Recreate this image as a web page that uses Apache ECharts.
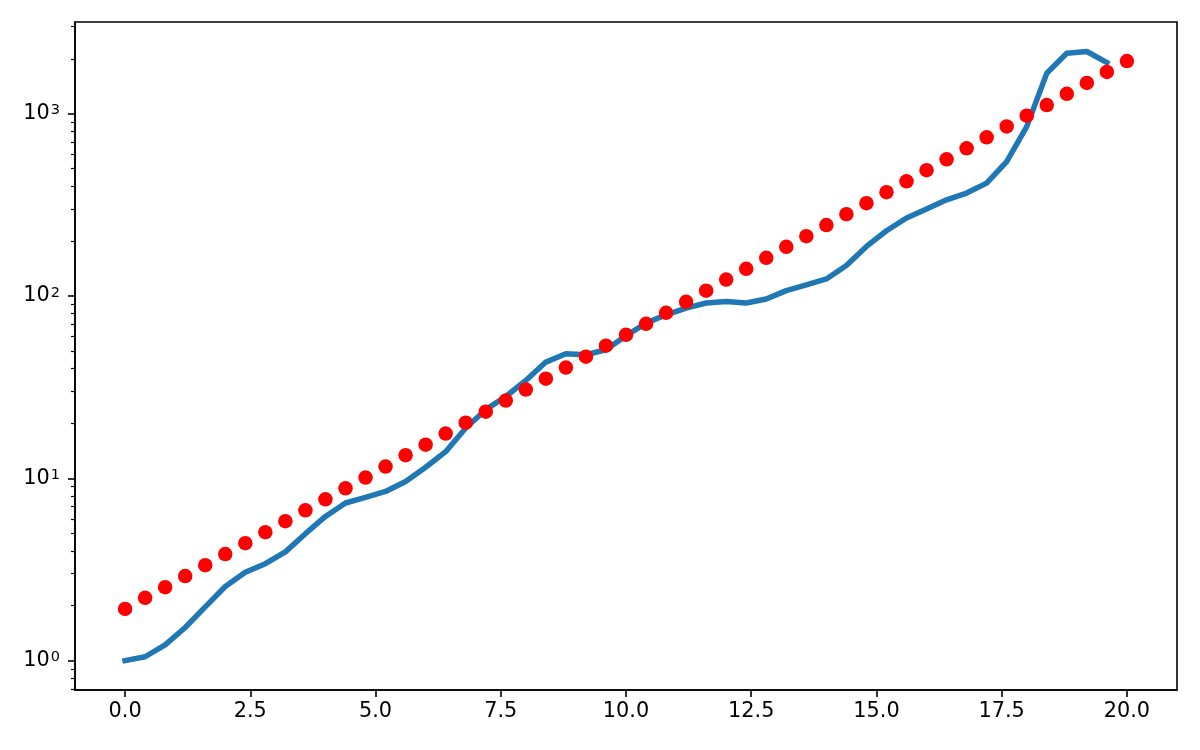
<!DOCTYPE html>
<html>
<head>
<meta charset="utf-8">
<script src="https://cdn.jsdelivr.net/npm/echarts@6/dist/echarts.min.js"></script>
<style>
  html, body { margin: 0; padding: 0; background: #fff; }
  #chart { width: 1200px; height: 750px; }
</style>
</head>
<body>
<div id="chart"></div>
<script>
// x positions shared by both series (line stops at 19.6, dots go to 20)
const xValues = [0, 0.4, 0.8, 1.2, 1.6, 2, 2.4, 2.8, 3.2, 3.6, 4, 4.4, 4.8, 5.2, 5.6, 6, 6.4, 6.8, 7.2, 7.6,
  8, 8.4, 8.8, 9.2, 9.6, 10, 10.4, 10.8, 11.2, 11.6, 12, 12.4, 12.8, 13.2, 13.6, 14, 14.4, 14.8, 15.2, 15.6,
  16, 16.4, 16.8, 17.2, 17.6, 18, 18.4, 18.8, 19.2, 19.6, 20]

// blue line
const lineValues = [1.0, 1.05, 1.22, 1.52, 1.97, 2.55, 3.05, 3.4, 3.95, 4.97, 6.18, 7.32, 7.86, 8.47, 9.61,
  11.5, 14.0, 18.9, 23.8, 28.1, 34.4, 43.4, 48.2, 47.6, 50.7, 60.5, 71.0, 78.9, 85.8, 91.5, 93.4, 91.5, 96.2,
  107, 115, 124, 147, 187, 228, 268, 300, 337, 367, 416, 546, 849, 1667, 2147, 2193, 1906]

// red dots
const dotValues = [1.92, 2.21, 2.53, 2.91, 3.34, 3.84, 4.41, 5.06, 5.82, 6.68, 7.67, 8.81, 10.1, 11.6, 13.4,
  15.3, 17.6, 20.2, 23.2, 26.7, 30.7, 35.2, 40.5, 46.5, 53.4, 61.3, 70.4, 80.9, 92.9, 107, 123, 141, 162, 186,
  213, 245, 281, 323, 371, 426, 490, 562, 646, 742, 852, 975, 1115, 1285, 1475, 1695, 1945]

const xTicks = [0, 2.5, 5, 7.5, 10, 12.5, 15, 17.5, 20]
const yTicks = [1, 10, 100, 1000]
const yMinorTicks = [0.7, 0.8, 0.9, 2, 3, 4, 5, 6, 7, 8, 9, 20, 30, 40, 50, 60, 70, 80, 90,
  200, 300, 400, 500, 600, 700, 800, 900, 2000, 3000]

const font = 'DejaVu Sans'
const fontSize = 20.8
const axisColor = '#000'
const spineWidth = 1.6

const chart = echarts.init(document.getElementById('chart'))

chart.setOption({
  animation: false,
  backgroundColor: '#fff',
  textStyle: { fontFamily: font, fontSize: fontSize, color: '#000' },
  grid: {
    left: 75,
    right: 23,
    top: 22,
    bottom: 60,
    show: true,
    borderColor: axisColor,
    borderWidth: spineWidth
  },
  xAxis: {
    type: 'value',
    min: -1,
    max: 21,
    splitLine: { show: false },
    axisLine: { onZero: false, lineStyle: { color: axisColor, width: spineWidth } },
    axisTick: {
      length: 7,
      customValues: xTicks,
      lineStyle: { color: axisColor, width: spineWidth }
    },
    axisLabel: {
      customValues: xTicks,
      margin: 11,
      fontFamily: font,
      fontSize: fontSize,
      color: '#000',
      formatter: v => v.toFixed(1)
    }
  },
  yAxis: [
    {
      type: 'log',
      logBase: 10,
      position: 'left',
      min: 0.69,
      max: 3184,
      splitLine: { show: false },
      axisLine: { onZero: false, lineStyle: { color: axisColor, width: spineWidth } },
      axisTick: {
        length: 7,
        customValues: yTicks,
        lineStyle: { color: axisColor, width: spineWidth }
      },
      axisLabel: {
        customValues: yTicks,
        margin: 15,
        color: '#000',
        formatter: v => '{b|10}{s|' + Math.round(Math.log10(v)) + '}',
        rich: {
          b: { fontFamily: font, fontSize: fontSize, color: '#000', verticalAlign: 'bottom' },
          s: { fontFamily: font, fontSize: 14.5, color: '#000', verticalAlign: 'top', padding: [0, 0, 0, 1] }
        }
      }
    },
    {
      // minor ticks only
      type: 'log',
      logBase: 10,
      position: 'left',
      min: 0.69,
      max: 3184,
      splitLine: { show: false },
      axisLine: { show: false, onZero: false },
      axisTick: {
        length: 4,
        customValues: yMinorTicks,
        lineStyle: { color: axisColor, width: 1.2 }
      },
      axisLabel: { show: false }
    }
  ],
  series: [
    {
      name: 'line',
      type: 'line',
      yAxisIndex: 0,
      data: lineValues.map((v, i) => [xValues[i], v]),
      showSymbol: false,
      symbol: 'none',
      lineStyle: { color: '#1f77b4', width: 5.5, cap: 'square', join: 'round' },
      z: 2
    },
    {
      name: 'dots',
      type: 'scatter',
      yAxisIndex: 0,
      data: dotValues.map((v, i) => [xValues[i], v]),
      symbol: 'circle',
      symbolSize: 14.5,
      itemStyle: { color: '#ff0000', opacity: 1 },
      z: 3
    }
  ]
})
</script>
</body>
</html>
